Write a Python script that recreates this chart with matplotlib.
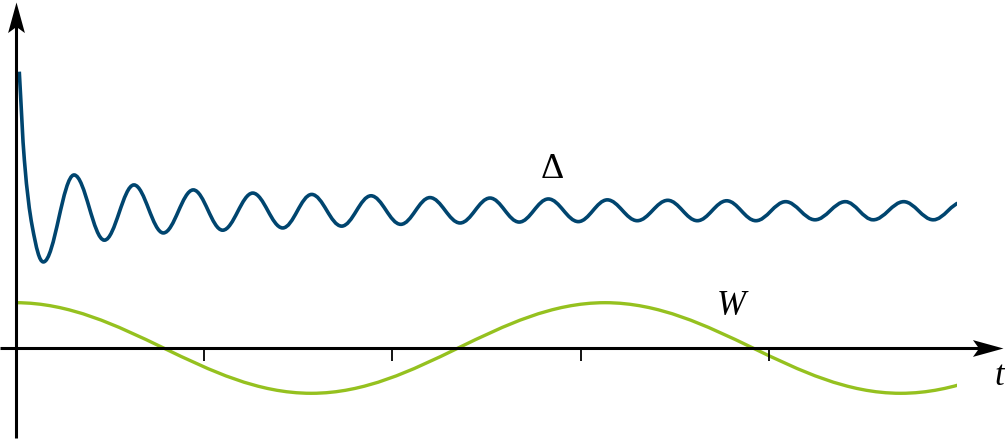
# Importación de bibliotecas necesarias
import matplotlib
matplotlib.use("Agg")
import matplotlib.pyplot as plt
from matplotlib.path import Path
from matplotlib.patches import PathPatch, Rectangle

# Datos: caída inicial y extremos (picos y valles) de cada curva
# Delta: oscilación amortiguada alrededor de ~3
delta_t = [0.019, 0.046, 0.088, 0.147, 0.310, 0.471, 0.628, 0.784, 0.943, 1.099,
           1.259, 1.418, 1.572, 1.731, 1.887, 2.045, 2.200, 2.360, 2.519, 2.674,
           2.829, 2.988, 3.142, 3.301, 3.463, 3.620, 3.776, 3.931, 4.089, 4.245,
           4.406, 4.554, 4.716, 4.873, 5.027]
delta_v = [6.10, 4.15, 2.68, 1.90, 3.82, 2.38, 3.60, 2.54, 3.49, 2.60,
           3.42, 2.65, 3.39, 2.69, 3.36, 2.73, 3.32, 2.76, 3.31, 2.78,
           3.29, 2.79, 3.27, 2.81, 3.26, 2.81, 3.25, 2.81, 3.23, 2.83,
           3.23, 2.83, 3.23, 2.83, 3.22]

# W: oscilación lenta
w_t = [0.0, 1.57, 3.13, 4.70, 6.27]
w_v = [1.0, -1.0, 1.0, -1.0, 1.0]

# Marcas del eje t
tick_t = [1, 2, 3, 4]
t_fin = 5.0

# Colores
color_delta = "#00456f"
color_w = "#95c11f"


def curva_suave(ts, vs, inicio_plano):
    """Une puntos consecutivos con curvas de Bézier (tangente horizontal en los extremos)."""
    n = len(ts)
    m = []
    for i in range(n):
        if i == 0:
            m.append(0.0 if inicio_plano else (vs[1] - vs[0]) / (ts[1] - ts[0]))
        elif i == n - 1 or (vs[i] - vs[i - 1]) * (vs[i + 1] - vs[i]) <= 0:
            m.append(0.0)
        else:
            m.append((vs[i + 1] - vs[i - 1]) / (ts[i + 1] - ts[i - 1]))
    a = 0.3634  # aproxima medio periodo de coseno
    verts = [(ts[0], vs[0])]
    codes = [Path.MOVETO]
    for i in range(n - 1):
        h = a * (ts[i + 1] - ts[i])
        verts += [(ts[i] + h, vs[i] + m[i] * h),
                  (ts[i + 1] - h, vs[i + 1] - m[i + 1] * h),
                  (ts[i + 1], vs[i + 1])]
        codes += [Path.CURVE4] * 3
    return Path(verts, codes)


def plot_delta_w():
    fig = plt.figure(figsize=(10.05, 4.4), dpi=100)
    ax = fig.add_axes([0, 0, 1, 1])
    ax.set_xlim(-0.0834, 5.254)
    ax.set_ylim(-2.031, 7.682)
    ax.axis("off")

    # Recorte de las curvas en t = 5
    recorte = Rectangle((-1, -10), 1 + t_fin, 30, transform=ax.transData)

    for ts, vs, col, lw, plano in [(delta_t, delta_v, color_delta, 2.6, False),
                                   (w_t, w_v, color_w, 2.4, True)]:
        p = PathPatch(curva_suave(ts, vs, plano), fill=False, edgecolor=col, lw=lw,
                      capstyle="butt", joinstyle="round", zorder=2)
        ax.add_patch(p)
        p.set_clip_path(recorte)

    # Ejes con flechas
    ax.plot([-0.0834, 5.15], [0, 0], color="black", lw=2.2, solid_capstyle="butt", zorder=3)
    ax.plot([0, 0], [-1.99, 7.25], color="black", lw=2.2, solid_capstyle="butt", zorder=3)
    flecha = Path([(0, 0), (-2, 0.55), (-1.6, 0), (-2, -0.55), (0, 0)],
                  [Path.MOVETO, Path.LINETO, Path.LINETO, Path.LINETO, Path.CLOSEPOLY])
    ax.plot([5.243], [0], marker=flecha, ms=44, color="black", mew=0, zorder=4)
    flecha_v = Path([(0, 0), (0.55, -2), (0, -1.6), (-0.55, -2), (0, 0)],
                    [Path.MOVETO, Path.LINETO, Path.LINETO, Path.LINETO, Path.CLOSEPOLY])
    ax.plot([0], [7.64], marker=flecha_v, ms=44, color="black", mew=0, zorder=4)

    # Marcas del eje t
    ax.vlines(tick_t, -0.29, 0, color="black", lw=1.3, zorder=3)

    # Etiquetas
    fuente = "Liberation Serif"
    ax.text(2.851, 3.753, "Δ", fontsize=26, family=fuente, ha="center", va="baseline")
    ax.text(3.799, 0.728, "W", fontsize=25, family=fuente, style="italic", ha="center", va="baseline")
    ax.text(5.222, -0.817, "t", fontsize=25, family=fuente, style="italic", ha="center", va="baseline")

    fig.savefig("out.png", dpi=100)


if __name__ == "__main__":
    plot_delta_w()
